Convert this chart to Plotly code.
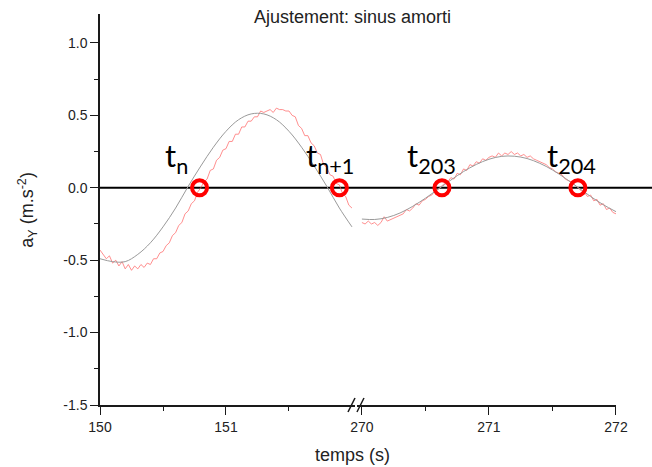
import plotly.graph_objects as go

# ---------------- data ----------------
t_meas_1 = [150.000, 150.025, 150.050, 150.075, 150.100, 150.125, 150.150, 150.175, 150.200, 150.225,
            150.250, 150.275, 150.300, 150.325, 150.350, 150.375, 150.400, 150.425, 150.450, 150.475,
            150.500, 150.525, 150.550, 150.575, 150.600, 150.625, 150.650, 150.675, 150.700, 150.725,
            150.750, 150.775, 150.800, 150.825, 150.850, 150.875, 150.900, 150.925, 150.950, 150.975,
            151.000, 151.025, 151.050, 151.075, 151.100, 151.125, 151.150, 151.175, 151.200, 151.225,
            151.250, 151.275, 151.300, 151.325, 151.350, 151.375, 151.400, 151.425, 151.450, 151.475,
            151.500, 151.525, 151.550, 151.575, 151.600, 151.625, 151.650, 151.675, 151.700, 151.725,
            151.750, 151.775, 151.800, 151.825, 151.850, 151.875, 151.900, 151.925, 151.950, 151.975,
            152.000]
a_meas_1 = [-0.43, -0.46, -0.49, -0.47, -0.52, -0.50, -0.54, -0.51, -0.56, -0.53,
            -0.57, -0.54, -0.56, -0.53, -0.55, -0.52, -0.53, -0.49, -0.49, -0.45,
            -0.44, -0.40, -0.38, -0.33, -0.31, -0.26, -0.24, -0.18, -0.16, -0.11,
            -0.09, -0.03, 0.00, 0.04, 0.06, 0.12, 0.13, 0.19, 0.21, 0.26,
            0.27, 0.32, 0.32, 0.37, 0.37, 0.42, 0.42, 0.46, 0.46, 0.49,
            0.49, 0.53, 0.52, 0.53, 0.54, 0.52, 0.55, 0.54, 0.54, 0.53,
            0.53, 0.50, 0.49, 0.43, 0.41, 0.36, 0.36, 0.31, 0.29, 0.24,
            0.23, 0.16, 0.14, 0.09, 0.08, 0.03, 0.02, -0.04, -0.06, -0.12,
            -0.14]

t_fit_1 = [150.0, 150.1, 150.2, 150.3, 150.4, 150.5, 150.6, 150.7, 150.8, 150.9, 151.0,
           151.1, 151.2, 151.3, 151.4, 151.5, 151.6, 151.7, 151.8, 151.9, 152.0]
a_fit_1 = [-0.49, -0.51, -0.51, -0.46, -0.38, -0.27, -0.14, 0.01, 0.15, 0.28, 0.39,
           0.47, 0.51, 0.51, 0.47, 0.39, 0.28, 0.15, 0.01, -0.14, -0.27]

t_meas_2 = [270.000, 270.025, 270.050, 270.075, 270.100, 270.125, 270.150, 270.175, 270.200, 270.225,
            270.250, 270.275, 270.300, 270.325, 270.350, 270.375, 270.400, 270.425, 270.450, 270.475,
            270.500, 270.525, 270.550, 270.575, 270.600, 270.625, 270.650, 270.675, 270.700, 270.725,
            270.750, 270.775, 270.800, 270.825, 270.850, 270.875, 270.900, 270.925, 270.950, 270.975,
            271.000, 271.025, 271.050, 271.075, 271.100, 271.125, 271.150, 271.175, 271.200, 271.225,
            271.250, 271.275, 271.300, 271.325, 271.350, 271.375, 271.400, 271.425, 271.450, 271.475,
            271.500, 271.525, 271.550, 271.575, 271.600, 271.625, 271.650, 271.675, 271.700, 271.725,
            271.750, 271.775, 271.800, 271.825, 271.850, 271.875, 271.900, 271.925, 271.950, 271.975,
            272.000]
a_meas_2 = [-0.24, -0.25, -0.23, -0.25, -0.24, -0.26, -0.24, -0.20, -0.23, -0.22,
            -0.21, -0.20, -0.19, -0.18, -0.15, -0.16, -0.14, -0.11, -0.12, -0.09,
            -0.08, -0.06, -0.05, -0.02, -0.01, 0.01, 0.03, 0.04, 0.07, 0.06,
            0.10, 0.09, 0.13, 0.12, 0.16, 0.15, 0.18, 0.17, 0.20, 0.19,
            0.21, 0.22, 0.21, 0.24, 0.22, 0.24, 0.23, 0.25, 0.23, 0.24,
            0.22, 0.23, 0.21, 0.22, 0.20, 0.19, 0.18, 0.17, 0.16, 0.14,
            0.13, 0.11, 0.10, 0.09, 0.06, 0.05, 0.04, 0.02, 0.00, -0.02,
            -0.03, -0.06, -0.05, -0.09, -0.08, -0.12, -0.11, -0.15, -0.14, -0.17,
            -0.18]

t_fit_2 = [270.0, 270.1, 270.2, 270.3, 270.4, 270.5, 270.6, 270.7, 270.8, 270.9, 271.0,
           271.1, 271.2, 271.3, 271.4, 271.5, 271.6, 271.7, 271.8, 271.9, 272.0]
a_fit_2 = [-0.216, -0.219, -0.205, -0.174, -0.128, -0.072, -0.010, 0.053, 0.112, 0.161, 0.197,
           0.217, 0.218, 0.202, 0.169, 0.123, 0.066, 0.003, -0.060, -0.117, -0.165]

# zero crossings marked on the chart
cross_t_1 = [150.79, 151.90]
cross_t_2 = [270.63, 271.70]
cross_a = [0.0, 0.0]
cross_labels_1 = ["t<sub>n</sub>", "t<sub>n+1</sub>"]
cross_labels_2 = ["t<sub>203</sub>", "t<sub>204</sub>"]
label_t_1 = [150.61, 151.825]
label_t_2 = [270.55, 271.65]
label_a = 0.21

y_ticks = [-1.5, -1.0, -0.5, 0.0, 0.5, 1.0]
y_ticktext = ["-1.5", "-1.0", "-0.5", "0.0", "0.5", "1.0"]
y_minor = [-1.25, -0.75, -0.25, 0.25, 0.75]
x1_ticks = [150, 151]
x1_minor = [150.5, 151.5]
x2_ticks = [270, 271, 272]
x2_minor = [270.5, 271.5]

Y_RANGE = [-1.5, 1.2]
X1_RANGE = [150.0, 152.024]
X2_RANGE = [269.961, 272.0]

# ---------------- figure ----------------
RED = "#ff5a5a"
GRAY = "#9a9a9a"
AX = "#1a1a1a"
FONT = "Liberation Sans, Arial, sans-serif"

fig = go.Figure()
fig.add_trace(go.Scatter(x=t_meas_1, y=a_meas_1, mode="lines", xaxis="x", yaxis="y",
                         line=dict(color=RED, width=0.8), opacity=0.85, showlegend=False))
fig.add_trace(go.Scatter(x=t_fit_1, y=a_fit_1, mode="lines", xaxis="x", yaxis="y",
                         line=dict(color=GRAY, width=1, shape="spline"), showlegend=False))
fig.add_trace(go.Scatter(x=t_meas_2, y=a_meas_2, mode="lines", xaxis="x2", yaxis="y",
                         line=dict(color=RED, width=0.8), opacity=0.85, showlegend=False))
fig.add_trace(go.Scatter(x=t_fit_2, y=a_fit_2, mode="lines", xaxis="x2", yaxis="y",
                         line=dict(color=GRAY, width=1, shape="spline"), showlegend=False))

for xs, xa in ((cross_t_1, "x"), (cross_t_2, "x2")):
    fig.add_trace(go.Scatter(x=xs, y=cross_a, mode="markers", xaxis=xa, yaxis="y",
                             marker=dict(symbol="circle-open", size=15, color="#ff0000",
                                         line=dict(width=4, color="#ff0000")),
                             showlegend=False, cliponaxis=False))

annotations = []
for xs, labels, xref in ((label_t_1, cross_labels_1, "x"), (label_t_2, cross_labels_2, "x2")):
    for xv, lab in zip(xs, labels):
        annotations.append(dict(x=xv, y=label_a, xref=xref, yref="y", text=lab, showarrow=False,
                                xanchor="center", yanchor="middle",
                                font=dict(family="Lato, Open Sans, sans-serif", size=31, color="black")))

annotations.append(dict(x=0.49, y=0.992, xref="paper", yref="paper", text="Ajustement: sinus amorti",
                        showarrow=False, xanchor="center", yanchor="middle",
                        font=dict(family=FONT, size=18, color="#222")))
annotations.append(dict(x=-0.141, y=0.50, xref="paper", yref="paper",
                        text="a<sub>Y</sub> (m.s<sup>-2</sup>)", textangle=-90,
                        showarrow=False, xanchor="center", yanchor="middle",
                        font=dict(family=FONT, size=18, color="#222")))
annotations.append(dict(x=0.49, y=-0.127, xref="paper", yref="paper", text="temps (s)",
                        showarrow=False, xanchor="center", yanchor="middle",
                        font=dict(family=FONT, size=18, color="#222")))

zero_paper = (0 - Y_RANGE[0]) / (Y_RANGE[1] - Y_RANGE[0])
shapes = [
    dict(type="line", xref="paper", yref="paper", x0=0, x1=1.07, y0=zero_paper, y1=zero_paper,
         line=dict(color="black", width=2), layer="below"),
    dict(type="line", xref="paper", yref="paper", x0=0.4806, y0=-0.018, x1=0.4942, y1=0.018,
         line=dict(color=AX, width=1.5)),
    dict(type="line", xref="paper", yref="paper", x0=0.498, y0=-0.018, x1=0.5116, y1=0.018,
         line=dict(color=AX, width=1.5)),
]

common_x = dict(showline=True, linecolor=AX, linewidth=1.5, ticks="outside", ticklen=8, tickwidth=1.3,
                tickcolor=AX, showgrid=False, zeroline=False,
                tickfont=dict(family=FONT, size=14, color="#222"), anchor="y")

fig.update_layout(
    width=652, height=467,
    margin=dict(l=100, r=36, t=14, b=62),
    paper_bgcolor="white", plot_bgcolor="white",
    font=dict(family=FONT, color="#222"),
    xaxis=dict(domain=[0, 0.4942], range=X1_RANGE, tickmode="array", tickvals=x1_ticks,
               ticktext=[str(v) for v in x1_ticks],
               minor=dict(tickmode="array", tickvals=x1_minor, ticklen=4, tickwidth=1.3,
                          tickcolor=AX, ticks="outside", showgrid=False),
               **common_x),
    xaxis2=dict(domain=[0.498, 1], range=X2_RANGE, tickmode="array", tickvals=x2_ticks,
                ticktext=[str(v) for v in x2_ticks],
                minor=dict(tickmode="array", tickvals=x2_minor, ticklen=4, tickwidth=1.3,
                           tickcolor=AX, ticks="outside", showgrid=False),
                **common_x),
    yaxis=dict(range=Y_RANGE, tickmode="array", tickvals=y_ticks, ticktext=y_ticktext,
               showline=True, linecolor=AX, linewidth=1.5, ticks="outside", ticklen=8, tickwidth=1.3,
               tickcolor=AX, showgrid=False, zeroline=False,
               minor=dict(tickmode="array", tickvals=y_minor, ticklen=4, tickwidth=1.3,
                          tickcolor=AX, ticks="outside", showgrid=False),
               tickfont=dict(family=FONT, size=14, color="#222"), anchor="x"),
    annotations=annotations,
    shapes=shapes,
)

fig.write_html("out.html")
